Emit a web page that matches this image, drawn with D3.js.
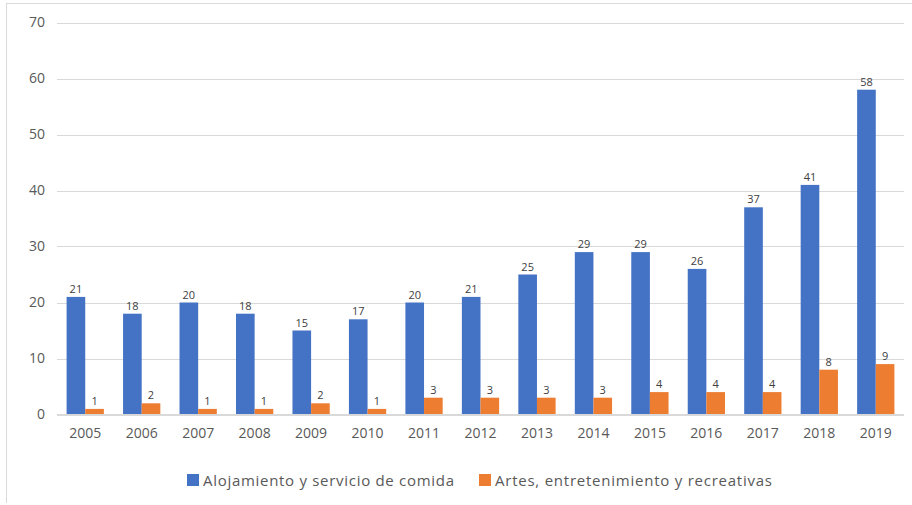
<!DOCTYPE html>
<html><head><meta charset="utf-8">
<script src="https://cdn.jsdelivr.net/npm/d3@7/dist/d3.min.js"></script>
<style>
html,body{margin:0;padding:0;background:#fff;}
svg{display:block;font-family:"Open Sans","Liberation Sans",sans-serif;}
</style></head>
<body>
<svg id="chart" width="912" height="505"></svg>
<script>
const years = ["2005","2006","2007","2008","2009","2010","2011","2012","2013","2014","2015","2016","2017","2018","2019"];
const alojamiento = [21,18,20,18,15,17,20,21,25,29,29,26,37,41,58];
const artes = [1,2,1,1,2,1,3,3,3,3,4,4,4,8,9];
const seriesNames = ["Alojamiento y servicio de comida","Artes, entretenimiento y recreativas"];
const seriesColors = ["#4472C4","#ED7D31"];
const yTicks = [0,10,20,30,40,50,60,70];

const svg = d3.select("#chart");
// frame
svg.append("line").attr("x1",6.5).attr("x2",6.5).attr("y1",3).attr("y2",503).attr("stroke","#d9d9d9");
svg.append("line").attr("x1",6).attr("x2",912).attr("y1",3.5).attr("y2",3.5).attr("stroke","#d9d9d9");

const x0 = d3.scaleBand().domain(years).range([57,904]).paddingInner(0.34).paddingOuter(0.17);
const x1 = d3.scaleBand().domain([0,1]).range([0,x0.bandwidth()]);
const y = d3.scaleLinear().domain([0,70]).range([414.5,22.5]);

// gridlines
svg.append("g").selectAll("line").data(yTicks).join("line")
  .attr("x1",57).attr("x2",904)
  .attr("y1",d=>Math.round(y(d))+0.5).attr("y2",d=>Math.round(y(d))+0.5)
  .attr("stroke","#d9d9d9").attr("stroke-width",1);

// y axis labels
const yAxis = d3.axisLeft(y).tickValues(yTicks).tickSize(0).tickPadding(0);
const ga = svg.append("g").attr("transform","translate(45,0)").call(yAxis);
ga.select(".domain").remove();
ga.selectAll("text").attr("font-size",14).attr("fill","#595959").attr("font-family","'Open Sans',sans-serif");

// x axis labels
const xAxis = d3.axisBottom(x0).tickSize(0).tickPadding(0);
const gx = svg.append("g").attr("transform","translate(0,428)").call(xAxis);
gx.select(".domain").remove();
gx.selectAll("text").attr("font-size",14).attr("fill","#595959").attr("font-family","'Open Sans',sans-serif");

const data = years.map((yr,i)=>({yr, vals:[alojamiento[i],artes[i]]}));
const groups = svg.append("g").selectAll("g").data(data).join("g")
  .attr("transform",d=>`translate(${x0(d.yr)},0)`);
groups.selectAll("rect").data(d=>d.vals.map((v,k)=>({v,k}))).join("rect")
  .attr("x",d=>x1(d.k)).attr("width",x1.bandwidth())
  .attr("y",d=>y(d.v)).attr("height",d=>y(0)-y(d.v))
  .attr("fill",d=>seriesColors[d.k]);
groups.selectAll("text").data(d=>d.vals.map((v,k)=>({v,k}))).join("text")
  .attr("x",d=>x1(d.k)+x1.bandwidth()/2).attr("y",d=>y(d.v)-4)
  .attr("text-anchor","middle").attr("font-size",11).attr("fill","#404040")
  .text(d=>d.v);

// baseline
svg.append("line").attr("x1",57).attr("x2",904).attr("y1",414.5).attr("y2",414.5).attr("stroke","#d9d9d9");

// legend
const legX = [187,479];
const legW = [251,277];
const leg = svg.append("g").selectAll("g").data(seriesNames).join("g")
  .attr("transform",(d,i)=>`translate(${legX[i]},474)`);
leg.append("rect").attr("width",12).attr("height",12).attr("fill",(d,i)=>seriesColors[i]);
leg.append("text").attr("x",16).attr("y",11.5).attr("font-size",15).attr("fill","#595959")
  .attr("textLength",(d,i)=>legW[i]).attr("lengthAdjust","spacing").text(d=>d);
</script>
</body></html>
